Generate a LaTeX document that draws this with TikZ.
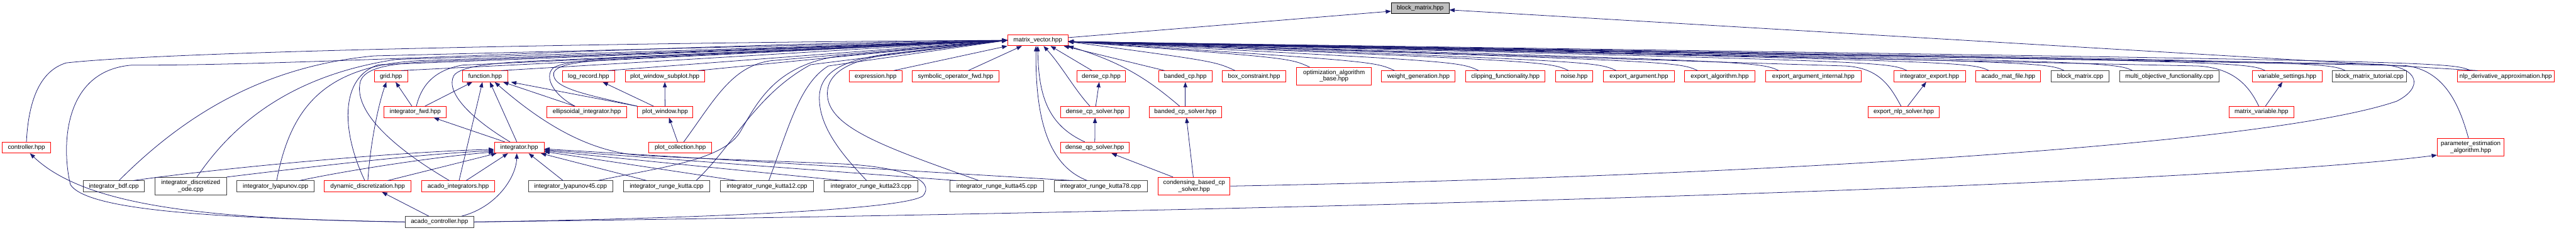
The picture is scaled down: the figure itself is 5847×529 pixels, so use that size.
\documentclass[tikz,border=0pt]{standalone}
\usepackage{fontspec}
\setmainfont{Liberation Sans}
\usepackage{xcolor}
\usepackage{tikz}
\usetikzlibrary{arrows.meta}

\definecolor{dxblue}{HTML}{191970}
\definecolor{dxred}{HTML}{FF0000}
\definecolor{dxgray}{HTML}{404040}
\definecolor{dxfill}{HTML}{BFBFBF}

\tikzset{
  dxbox/.style={draw, line width=1.2pt, inner sep=0pt, minimum height=25pt,
    align=center, fill=white, font=\fontsize{14}{15}\selectfont},
  hred/.style={dxbox, draw=dxred},
  hblk/.style={dxbox, draw=dxgray},
  hroot/.style={dxbox, draw=black, fill=dxfill},
  incl/.style={draw=dxblue, line width=1.1pt, -{Triangle[length=12pt,width=9pt]}}
}

\begin{document}
\begin{tikzpicture}[x=1pt, y=-1pt]
  \fill[white] (0,0) rectangle (5847,529);
  \useasboundingbox (0,0) rectangle (5847,529);

  % --- radice e matrix_vector ---
  \node[hroot, minimum width=131pt] (bm) at (3223.5,18.5) {block\_matrix.hpp};
  \node[hred, minimum width=137pt] (mv) at (2355.5,91.5) {matrix\_vector.hpp};

  % --- riga 2 ---
  \node[hred, minimum width=75pt]  (grid)      at (887.5,173.5)  {grid.hpp};
  \node[hred, minimum width=102pt] (function)  at (1101,173.5)   {function.hpp};
  \node[hred, minimum width=118pt] (logrec)    at (1336,173.5)   {log\_record.hpp};
  \node[hred, minimum width=180pt] (pwsub)     at (1509,173.5)   {plot\_window\_subplot.hpp};
  \node[hred, minimum width=119pt] (expr)      at (1987.5,173.5) {expression.hpp};
  \node[hred, minimum width=196pt] (symop)     at (2169,173.5)   {symbolic\_operator\_fwd.hpp};
  \node[hred, minimum width=111pt] (densecp)   at (2499.5,173.5) {dense\_cp.hpp};
  \node[hred, minimum width=121pt] (bandedcp)  at (2690.5,173.5) {banded\_cp.hpp};
  \node[hred, minimum width=145pt] (boxc)      at (2846.5,173.5) {box\_constraint.hpp};
  \node[hred, minimum width=170pt, minimum height=40pt] (optalg) at (3028,173) {optimization\_algorithm\\\_base.hpp};
  \node[hred, minimum width=167pt] (weightgen) at (3219.5,173.5) {weight\_generation.hpp};
  \node[hred, minimum width=180pt] (clipping)  at (3417,173.5)   {clipping\_functionality.hpp};
  \node[hred, minimum width=84pt]  (noise)     at (3573,173.5)   {noise.hpp};
  \node[hred, minimum width=162pt] (exparg)    at (3720,173.5)   {export\_argument.hpp};
  \node[hred, minimum width=159pt] (expalg)    at (3903.5,173.5) {export\_algorithm.hpp};
  \node[hred, minimum width=216pt] (expargint) at (4116,173.5)   {export\_argument\_internal.hpp};
  \node[hred, minimum width=162pt] (intexp)    at (4380,173.5)   {integrator\_export.hpp};
  \node[hred, minimum width=147pt] (matfile)   at (4558.5,173.5) {acado\_mat\_file.hpp};
  \node[hblk, minimum width=131pt] (bmcpp)     at (4721.5,173.5) {block\_matrix.cpp};
  \node[hblk, minimum width=226pt] (multiobj)  at (4924,173.5)   {multi\_objective\_functionality.cpp};
  \node[hred, minimum width=159pt] (varset)    at (5191.5,173.5) {variable\_settings.hpp};
  \node[hblk, minimum width=168pt] (bmtut)     at (5378,173.5)   {block\_matrix\_tutorial.cpp};
  \node[hred, minimum width=219pt] (nlpda)     at (5687.5,173.5) {nlp\_derivative\_approximation.hpp};

  % --- riga 3 ---
  \node[hred, minimum width=141pt] (intfwd)    at (942.5,254.5)  {integrator\_fwd.hpp};
  \node[hred, minimum width=182pt] (ellint)    at (1332,254.5)   {ellipsoidal\_integrator.hpp};
  \node[hred, minimum width=125pt] (pwin)      at (1509.5,254.5) {plot\_window.hpp};
  \node[hred, minimum width=155pt] (densecps)  at (2485.5,254.5) {dense\_cp\_solver.hpp};
  \node[hred, minimum width=165pt] (bandedcps) at (2690.5,254.5) {banded\_cp\_solver.hpp};
  \node[hred, minimum width=162pt] (expnlp)    at (4321,254.5)   {export\_nlp\_solver.hpp};
  \node[hred, minimum width=148pt] (matvar)    at (5133,254.5)   {matrix\_variable.hpp};

  % --- riga 4 ---
  \node[hred, minimum width=110pt] (controller) at (60,335.5)    {controller.hpp};
  \node[hred, minimum width=113pt] (integrator) at (1178.5,335.5) {integrator.hpp};
  \node[hred, minimum width=142pt] (pcoll)      at (1544,335.5)  {plot\_collection.hpp};
  \node[hred, minimum width=156pt] (denseqps)   at (2485,335.5)  {dense\_qp\_solver.hpp};
  \node[hred, minimum width=152pt, minimum height=40pt] (paramest) at (5608,335) {parameter\_estimation\\\_algorithm.hpp};

  % --- riga 5 ---
  \node[hblk, minimum width=139pt] (bdf)      at (258.5,423.5)  {integrator\_bdf.cpp};
  \node[hblk, minimum width=162pt, minimum height=40pt] (discode) at (433,423) {integrator\_discretized\\\_ode.cpp};
  \node[hblk, minimum width=175pt] (lyap)     at (625.5,423.5)  {integrator\_lyapunov.cpp};
  \node[hred, minimum width=197pt] (dyndisc)  at (834.5,423.5)  {dynamic\_discretization.hpp};
  \node[hred, minimum width=166pt] (acadoint) at (1040,423.5)   {acado\_integrators.hpp};
  \node[hblk, minimum width=192pt] (lyap45)   at (1295,423.5)   {integrator\_lyapunov45.cpp};
  \node[hblk, minimum width=196pt] (rk)       at (1513,423.5)   {integrator\_runge\_kutta.cpp};
  \node[hblk, minimum width=212pt] (rk12)     at (1741,423.5)   {integrator\_runge\_kutta12.cpp};
  \node[hblk, minimum width=212pt] (rk23)     at (1977,423.5)   {integrator\_runge\_kutta23.cpp};
  \node[hblk, minimum width=213pt] (rk45)     at (2262.5,423.5) {integrator\_runge\_kutta45.cpp};
  \node[hblk, minimum width=211pt] (rk78)     at (2498.5,423.5) {integrator\_runge\_kutta78.cpp};
  \node[hred, minimum width=163pt, minimum height=40pt] (condcp) at (2710.5,423) {condensing\_based\_cp\\\_solver.hpp};

  % --- riga 6 ---
  \node[hblk, minimum width=155pt] (acadoctrl) at (997.5,504.5) {acado\_controller.hpp};

  % --- verso block_matrix ---
  \draw[incl] ([yshift=6pt]mv.east) -- ([yshift=-7pt]bm.west);
  \draw[incl] ([xshift=-64pt]nlpda.north) -- ([yshift=-4pt]bm.east);

  % --- riga 2 verso matrix_vector ---
  \foreach \n in {grid,function,logrec,pwsub}
    \draw[incl] ([xshift=-15pt]\n.north east) -- (mv.west);
  \draw[incl] ([xshift=-19pt]expr.north east) -- (mv.south west);
  \draw[incl] ([xshift=-70pt]symop.north east) -- ([xshift=33pt]mv.south west);
  \draw[incl] ([xshift=-21pt]densecp.north) -- ([xshift=-40pt]mv.south east);
  \draw[incl] ([xshift=-47pt]bandedcp.north) -- ([xshift=-10pt]mv.south east);
  \foreach \n in {boxc,optalg,weightgen,clipping,noise,exparg,expalg,expargint,
                  intexp,matfile,bmcpp,multiobj,varset,bmtut,nlpda}
    \draw[incl] ([xshift=30pt]\n.north west)
      .. controls ([xshift=-16pt,yshift=21pt]\n.north west) .. ([yshift=-3pt]mv.east);

  % --- riga 3 ---
  \draw[incl] ([xshift=-7.5pt]intfwd.north) -- ([xshift=10.5pt]grid.south);
  \draw[incl] ([xshift=2.5pt]intfwd.north) .. controls (955,200) and (980,160) .. (1050,148) -- (mv.west);
  \draw[incl] ([xshift=22pt]intfwd.north) -- ([xshift=-29pt]function.south);
  \draw[incl] ([xshift=-27pt]ellint.north) -- ([xshift=41pt]function.south);
  \draw[incl] ([xshift=-27pt]ellint.north) .. controls (1255,215) and (1235,175) .. (1255,155)
    .. controls (1275,140) and (1350,135) .. (1460,128) -- (mv.west);
  \draw[incl] (pwin.north west) -- ([xshift=59pt]function.south);
  \draw[incl] (pwin.north west) .. controls (1330,215) and (1250,200) .. (1257,165)
    .. controls (1265,145) and (1320,138) .. (1450,132) -- (mv.west);
  \draw[incl] ([xshift=-26pt]pwin.north) -- ([xshift=32pt]logrec.south);
  \draw[incl] (pwin.north) -- (pwsub.south);
  \draw[incl] ([xshift=1.5pt]densecps.north) -- ([xshift=-4.5pt]densecp.south);
  \draw[incl] ([xshift=-11.5pt]densecps.north) .. controls (2440,205) and (2410,150) .. ([xshift=-56pt]mv.south east);
  \draw[incl] (bandedcps.north) -- (bandedcp.south);
  \draw[incl] ([xshift=-13pt]bandedcps.north) .. controls (2600,175) and (2540,140) .. (mv.south east);
  \draw[incl] ([xshift=-6pt]expnlp.north) .. controls (4290,195) and (4265,155) .. (4190,150) -- ([yshift=-3pt]mv.east);
  \draw[incl] ([xshift=9pt]expnlp.north) -- ([xshift=-8pt]intexp.south);
  \draw[incl] ([xshift=-6pt]matvar.north) .. controls (5105,195) and (5070,155) .. (4990,150) -- ([yshift=-3pt]mv.east);
  \draw[incl] ([xshift=9pt]matvar.north) -- ([xshift=-11pt]varset.south);

  % --- riga 4 ---
  \draw[incl] (controller.north) .. controls (65,220) and (95,160) .. (150,143)
    .. controls (400,115) and (1500,96) .. (mv.west);
  \draw[incl] ([xshift=-33pt]integrator.north) -- ([xshift=42pt]intfwd.south);
  \draw[incl] ([xshift=-21pt]integrator.north) .. controls (1070,270) and (1010,210) .. (1030,172)
    .. controls (1045,150) and (1120,142) .. (1250,137) -- (mv.west);
  \draw[incl] ([xshift=-5.5pt]integrator.north) -- ([xshift=11pt]function.south);
  \draw[incl] ([xshift=-6pt]pcoll.north) -- ([xshift=9pt]pwin.south);
  \draw[incl] ([xshift=8pt]pcoll.north) .. controls (1620,230) and (1660,150) .. (1750,138) -- (mv.west);
  \draw[incl] (denseqps.north) -- (densecps.south);
  \draw[incl] ([xshift=-23pt]denseqps.north) .. controls (2380,285) and (2357,220) .. (mv.south);
  \draw[incl] ([xshift=-5pt]paramest.north) .. controls (5580,230) and (5545,160) .. (5460,149) -- ([yshift=-3pt]mv.east);

  % --- riga 5 ---
  \draw[incl] ([xshift=11.5pt]bdf.north) .. controls (420,260) and (600,150) .. (850,127) -- (mv.west);
  \draw[incl] ([xshift=44pt]bdf.north) .. controls (500,382) and (900,345) .. ([yshift=-4pt]integrator.west);
  \draw[incl] ([xshift=14pt]discode.north) .. controls (550,250) and (700,165) .. (900,135) -- (mv.west);
  \draw[incl] (discode.north east) .. controls (700,380) and (950,350) .. ([yshift=-7pt]integrator.west);
  \draw[incl] ([xshift=2.5pt]lyap.north) .. controls (660,240) and (740,150) .. (950,138) -- (mv.west);
  \draw[incl] ([xshift=54.5pt]lyap.north) .. controls (800,385) and (1000,355) .. ([yshift=-10pt]integrator.west);
  \draw[incl] ([xshift=-6.5pt]dyndisc.north) .. controls (775,300) and (770,175) .. (860,147) -- (mv.west);
  \draw[incl] ([xshift=0.5pt]dyndisc.north) .. controls (840,330) and (858,240) .. ([xshift=-10.5pt]grid.south);
  \draw[incl] ([xshift=45.5pt]dyndisc.north) -- ([xshift=-51.5pt]integrator.south);
  \draw[incl] ([xshift=-20pt]acadoint.north) .. controls (900,340) and (800,255) .. (818,185)
    .. controls (828,155) and (880,143) .. (1000,139) -- (mv.west);
  \draw[incl] ([xshift=2pt]acadoint.north) -- ([xshift=-6pt]function.south);
  \draw[incl] ([xshift=18pt]acadoint.north) -- ([xshift=-25.5pt]integrator.south);
  \draw[incl] ([xshift=-17pt]lyap45.north) -- ([xshift=21.5pt]integrator.south);
  \draw[incl] ([xshift=62pt]lyap45.north) .. controls (1500,380) and (1640,365) .. (1680,300)
    .. controls (1720,230) and (1760,150) .. (1900,128) -- (mv.west);
  \draw[incl] ([xshift=-45pt]rk.north) -- ([xshift=-8pt]integrator.south east);
  \draw[incl] ([xshift=67pt]rk.north) .. controls (1665,330) and (1715,215) .. (1840,147) -- (mv.west);
  \draw[incl] ([xshift=-69pt]rk12.north) -- ([yshift=-9pt]integrator.east);
  \draw[incl] ([xshift=4pt]rk12.north) .. controls (1790,290) and (1815,190) .. (1880,150) -- (mv.west);
  \draw[incl] ([xshift=-65pt]rk23.north) -- ([yshift=-7pt]integrator.east);
  \draw[incl] ([xshift=-10pt]rk23.north) .. controls (1920,360) and (1855,290) .. (1860,215)
    .. controls (1865,160) and (1920,135) .. (2020,122) -- (mv.west);
  \draw[incl] ([xshift=-92.5pt]rk45.north) -- ([yshift=-5pt]integrator.east);
  \draw[incl] ([xshift=-40.5pt]rk45.north) .. controls (2010,335) and (1880,290) .. (1878,215)
    .. controls (1876,160) and (1940,130) .. (2060,118) -- (mv.west);
  \draw[incl] ([xshift=-63.5pt]rk78.north) -- ([yshift=-3pt]integrator.east);
  \draw[incl] ([xshift=-30.5pt]rk78.north) .. controls (2375,375) and (2350,260) .. ([xshift=-4pt]mv.south);
  \draw[incl] ([xshift=-48pt]condcp.north) -- ([xshift=38pt]denseqps.south);
  \draw[incl] ([xshift=-2pt]condcp.north) -- ([xshift=2.5pt]bandedcps.south);
  \draw[incl] (condcp.east) .. controls (4000,400) and (5150,330) .. (5440,230)
    .. controls (5500,200) and (5495,152) .. (5400,146) -- ([yshift=-3pt]mv.east);

  % --- riga 6: acado_controller ---
  \draw[incl] (acadoctrl.west) .. controls (500,498) and (200,475) .. ([xshift=8pt]controller.south);
  \draw[incl] (acadoctrl.west) .. controls (500,496) and (200,480) .. (160,420)
    .. controls (140,340) and (140,160) .. (300,148)
    .. controls (700,150) and (1500,100) .. (mv.west);
  \draw[incl] ([xshift=-24pt]acadoctrl.north) -- ([xshift=32.5pt]dyndisc.south);
  \draw[incl] ([xshift=50pt]acadoctrl.north) .. controls (1130,470) and (1172,400) .. ([xshift=-5.5pt]integrator.south);
  \draw[incl] (acadoctrl.east) .. controls (1500,498) and (2050,480) .. (2095,445)
    .. controls (2125,410) and (2050,378) .. (1900,372)
    .. controls (1700,364) and (1520,358) .. (1440,352)
    .. controls (1330,340) and (1230,280) .. ([xshift=22pt]function.south);
  \draw[incl] (acadoctrl.east) .. controls (3000,480) and (5000,420) .. ([yshift=3pt]paramest.south west);
\end{tikzpicture}
\end{document}
